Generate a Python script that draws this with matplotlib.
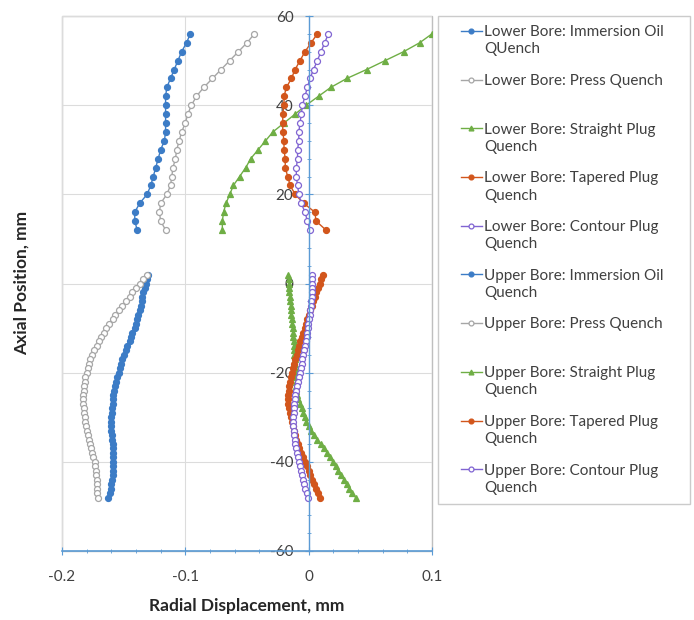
import numpy as np
import matplotlib
matplotlib.use("Agg")
import matplotlib.pyplot as plt
from matplotlib.legend_handler import HandlerLine2D
from matplotlib.ticker import MultipleLocator
from matplotlib.patches import Rectangle

plt.rcParams['font.family'] = ['Lato', 'DejaVu Sans']
plt.rcParams['axes.unicode_minus'] = False

# ---------------- data ----------------
lower_y = [12, 14, 16, 18, 20, 22, 24, 26, 28, 30, 32, 34, 36, 38, 40, 42, 44, 46, 48, 50, 52, 54, 56]

lower_immersion = [-0.139, -0.141, -0.141, -0.137, -0.131, -0.128, -0.126, -0.124, -0.122, -0.120, -0.117, -0.116,
                   -0.116, -0.116, -0.116, -0.116, -0.115, -0.112, -0.109, -0.106, -0.103, -0.099, -0.096]
lower_press = [-0.116, -0.120, -0.121, -0.120, -0.115, -0.112, -0.111, -0.110, -0.108, -0.107, -0.105, -0.103,
               -0.100, -0.098, -0.095, -0.091, -0.085, -0.078, -0.071, -0.064, -0.057, -0.050, -0.044]
lower_straight = [-0.070, -0.070, -0.069, -0.067, -0.064, -0.061, -0.056, -0.051, -0.047, -0.041, -0.035, -0.029,
                  -0.020, -0.011, -0.002, 0.008, 0.018, 0.031, 0.047, 0.062, 0.077, 0.090, 0.100]
lower_tapered = [0.014, 0.006, 0.005, -0.004, -0.011, -0.015, -0.017, -0.019, -0.019, -0.020, -0.020, -0.021,
                 -0.021, -0.021, -0.020, -0.020, -0.018, -0.014, -0.011, -0.007, -0.003, 0.002, 0.007]
lower_contour = [0.001, -0.001, -0.003, -0.006, -0.008, -0.009, -0.010, -0.010, -0.009, -0.009, -0.008, -0.008,
                 -0.007, -0.006, -0.005, -0.003, -0.001, 0.001, 0.004, 0.007, 0.010, 0.013, 0.016]

upper_y = [2, 1, 0, -1, -2, -3, -4, -5, -6, -7, -8, -9, -10, -11, -12, -13, -14, -15, -16, -17, -18, -19, -20,
           -21, -22, -23, -24, -25, -26, -27, -28, -29, -30, -31, -32, -33, -34, -35, -36, -37, -38, -39, -40,
           -41, -42, -43, -44, -45, -46, -47, -48]

upper_immersion = [-0.130, -0.131, -0.132, -0.133, -0.134, -0.135, -0.1355, -0.136, -0.137, -0.138, -0.139,
                   -0.140, -0.141, -0.143, -0.144, -0.145, -0.147, -0.148, -0.150, -0.151, -0.152, -0.153,
                   -0.154, -0.155, -0.156, -0.157, -0.158, -0.1585, -0.159, -0.159, -0.1595, -0.1595, -0.160,
                   -0.160, -0.160, -0.160, -0.1595, -0.1595, -0.159, -0.159, -0.159, -0.1585, -0.1585, -0.1585,
                   -0.159, -0.159, -0.1595, -0.160, -0.1605, -0.161, -0.163]
upper_press = [-0.131, -0.134, -0.137, -0.140, -0.143, -0.145, -0.148, -0.151, -0.154, -0.157, -0.159, -0.162,
               -0.164, -0.166, -0.168, -0.170, -0.172, -0.174, -0.1755, -0.177, -0.178, -0.179, -0.180, -0.181,
               -0.1815, -0.182, -0.1825, -0.1828, -0.183, -0.183, -0.1825, -0.182, -0.1815, -0.181, -0.1805,
               -0.1795, -0.179, -0.178, -0.177, -0.1765, -0.1755, -0.175, -0.1735, -0.173, -0.1725, -0.1725,
               -0.172, -0.172, -0.1715, -0.1715, -0.171]
upper_straight = [-0.0165, -0.0163, -0.016, -0.0158, -0.0156, -0.0154, -0.015, -0.0147, -0.0143, -0.014, -0.0137,
                  -0.0133, -0.013, -0.0126, -0.0124, -0.0122, -0.012, -0.0118, -0.0115, -0.0112, -0.011, -0.0108,
                  -0.0106, -0.0104, -0.0102, -0.010, -0.0099, -0.0098, -0.0085, -0.007, -0.0055, -0.0042, -0.003,
                  -0.0018, 0.000, 0.002, 0.0045, 0.007, 0.010, 0.0127, 0.015, 0.0172, 0.0195, 0.0218, 0.024,
                  0.0263, 0.0285, 0.031, 0.033, 0.0355, 0.038]
upper_tapered = [0.0115, 0.010, 0.0088, 0.0075, 0.0063, 0.005, 0.0038, 0.0025, 0.0013, 0.000, -0.001, -0.002,
                 -0.003, -0.0043, -0.0055, -0.0067, -0.0077, -0.0088, -0.0098, -0.011, -0.012, -0.0128, -0.0136,
                 -0.0144, -0.015, -0.0158, -0.0163, -0.0166, -0.0167, -0.0166, -0.0163, -0.0155, -0.0147, -0.0139,
                 -0.013, -0.0122, -0.0114, -0.0103, -0.009, -0.0075, -0.006, -0.0045, -0.003, -0.0015, 0.000,
                 0.0013, 0.0027, 0.004, 0.0058, 0.0075, 0.0095]
upper_contour = [0.0024, 0.0024, 0.0024, 0.0024, 0.0024, 0.0024, 0.0022, 0.0017, 0.0012, 0.0007, 0.0002, -0.0002,
                 -0.0007, -0.0012, -0.0017, -0.0023, -0.003, -0.0037, -0.0043, -0.005, -0.0057, -0.0063, -0.007,
                 -0.0078, -0.0086, -0.0094, -0.0102, -0.0109, -0.0113, -0.0116, -0.0119, -0.0121, -0.0123, -0.0125,
                 -0.0125, -0.0122, -0.0118, -0.0113, -0.0108, -0.0103, -0.0097, -0.0089, -0.008, -0.0071, -0.0062,
                 -0.0053, -0.0044, -0.0035, -0.0026, -0.0016, -0.0005]

labels = [
    "Lower Bore: Immersion Oil\nQUench",
    "Lower Bore: Press Quench\n ",
    "Lower Bore: Straight Plug\nQuench",
    "Lower Bore: Tapered Plug\nQuench",
    "Lower Bore: Contour Plug\nQuench",
    "Upper Bore: Immersion Oil\nQuench",
    "Upper Bore: Press Quench\n ",
    "Upper Bore: Straight Plug\nQuench",
    "Upper Bore: Tapered Plug\nQuench",
    "Upper Bore: Contour Plug\nQuench",
]

x_ticks = [-0.2, -0.1, 0, 0.1]
x_ticklabels = ["-0.2", "-0.1", "0", "0.1"]
y_ticks = [60, 40, 20, 0, -20, -40, -60]

# ---------------- styles ----------------
BLUE = "#3C7CC6"
GRAY = "#A6A6A6"
GREEN = "#6FAE45"
ORANGE = "#D2561C"
PURPLE = "#8064D2"

styles = [
    dict(color=BLUE, marker='o', mfc=BLUE, mec=BLUE),
    dict(color=GRAY, marker='o', mfc='white', mec=GRAY),
    dict(color=GREEN, marker='^', mfc=GREEN, mec=GREEN),
    dict(color=ORANGE, marker='o', mfc=ORANGE, mec=ORANGE),
    dict(color=PURPLE, marker='o', mfc='white', mec=PURPLE),
]

fig = plt.figure(figsize=(6.94, 6.20), dpi=100)
ax = fig.add_axes([62 / 694, 1 - 551 / 620, 370 / 694, 535 / 620])

lower_series = [lower_immersion, lower_press, lower_straight, lower_tapered, lower_contour]
upper_series = [upper_immersion, upper_press, upper_straight, upper_tapered, upper_contour]

handles = []
for xs, st in zip(lower_series, styles):
    h, = ax.plot(xs, lower_y, lw=1.0, markeredgewidth=0.9, ms=4.3, **st)
    handles.append(h)
for xs, st in zip(upper_series, styles):
    h, = ax.plot(xs, upper_y, lw=1.0, markeredgewidth=0.9, ms=4.3, **st)
    handles.append(h)

ax.set_xlim(-0.2, 0.1)
ax.set_ylim(-60, 60)
ax.set_xticks(x_ticks)
ax.set_xticklabels(x_ticklabels)
ax.set_yticks(y_ticks)
ax.xaxis.set_minor_locator(MultipleLocator(0.02))
ax.yaxis.set_minor_locator(MultipleLocator(4))

ax.grid(True, which='major', color='#DCDCDC', lw=0.8)
ax.set_axisbelow(True)

AXBLUE = "#5B9BD5"
ax.spines['left'].set_position(('data', 0))
ax.spines['left'].set_color(AXBLUE)
ax.spines['bottom'].set_color(AXBLUE)
ax.spines['bottom'].set_linewidth(1.2)
ax.spines['left'].set_linewidth(1.0)
ax.spines['top'].set_visible(False)
ax.spines['right'].set_visible(False)
ax.add_patch(Rectangle((0, 0), 1, 1, transform=ax.transAxes, fill=False,
                       edgecolor='#BFBFBF', lw=1.0, clip_on=False, zorder=0.5))

ax.tick_params(axis='both', which='major', direction='inout', length=6, color=AXBLUE,
               labelsize=11, labelcolor='#404040')
ax.tick_params(axis='both', which='minor', direction='inout', length=3, color=AXBLUE)
ax.tick_params(axis='x', pad=11)
ax.tick_params(axis='y', pad=8)

fig.text(247 / 694, 1 - 606 / 620, "Radial Displacement, mm", ha='center', va='center',
         fontsize=12.5, fontweight='bold', color='#262626')
fig.text(22 / 694, 1 - 283 / 620, "Axial Position, mm", ha='center', va='center',
         rotation=90, fontsize=12.5, fontweight='bold', color='#262626')


class TopHandler(HandlerLine2D):
    def create_artists(self, legend, orig_handle, xdescent, ydescent, width, height, fontsize, trans):
        artists = super().create_artists(legend, orig_handle, xdescent, ydescent, width, height,
                                         fontsize, trans)
        x0 = -xdescent + 0.38 * width
        x1 = -xdescent + width
        for a in artists:
            yd = np.asarray(a.get_ydata(), dtype=float) + fontsize * 0.66
            a.set_ydata(yd)
            if len(yd) == 1:
                a.set_xdata([0.5 * (x0 + x1)])
            else:
                a.set_xdata(np.linspace(x0, x1, len(yd)))
        return artists


leg = fig.legend(handles, labels, loc='upper left',
                 bbox_to_anchor=(438 / 694, 1 - 505 / 620, 252 / 694, 489 / 620), mode='expand',
                 fontsize=11, frameon=True, fancybox=False, edgecolor='#BFBFBF',
                 handlelength=2.3, handletextpad=0.1, labelspacing=1.14, borderpad=0.6,
                 borderaxespad=0.0,
                 handler_map={h: TopHandler(numpoints=1) for h in handles})
leg.get_frame().set_linewidth(1.0)
for t in leg.get_texts():
    t.set_linespacing(1.3)
    t.set_color('#404040')
for lh in leg.legend_handles:
    lh.set_markersize(3.5)

fig.savefig("out.png", dpi=100)
